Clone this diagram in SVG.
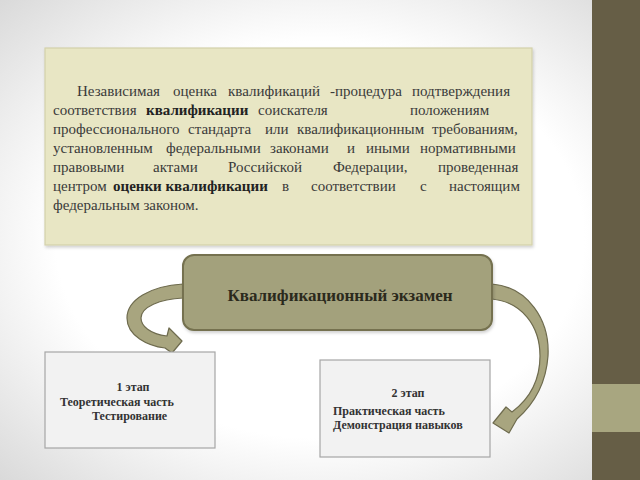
<svg xmlns="http://www.w3.org/2000/svg" width="640" height="480" viewBox="0 0 640 480">
<defs>
<radialGradient id="bg" cx="50%" cy="50%" r="75%">
<stop offset="0.55" stop-color="#ffffff"/>
<stop offset="1" stop-color="#d4d4d4"/>
</radialGradient>
<filter id="sh" x="-5%" y="-5%" width="110%" height="120%">
<feDropShadow dx="1" dy="2" stdDeviation="1.5" flood-color="#000" flood-opacity="0.18"/>
</filter>
</defs>
<style>
text{font-family:"Liberation Serif","DejaVu Serif",serif}
.body{font-size:15px;fill:#3a3a3a}
.b{font-weight:bold;fill:#222}
.small{font-size:12px;font-weight:bold;fill:#333}
.arrow{fill:#A8A57F;stroke:#6E6B4E;stroke-width:1.2;stroke-linejoin:round}
.stage{fill:#F2F2F2;stroke:#A6A6A6;stroke-width:1.2}
</style>
<rect x="0" y="0" width="640" height="480" fill="url(#bg)"/>
<rect x="592" y="0" width="48" height="480" fill="#665E46"/>
<rect x="592" y="384" width="48" height="48" fill="#A8A680"/>

<g id="definition">
<rect x="45" y="48" width="487" height="197" fill="#E8E6C4" stroke="#D3D1AB" stroke-width="1.2" filter="url(#sh)"/>
<text class="body" y="96"><tspan x="77">Независимая</tspan><tspan x="173">оценка</tspan><tspan x="228">квалификаций</tspan><tspan x="330">-процедура</tspan><tspan x="412">подтверждения</tspan></text>
<text class="body" y="115"><tspan x="53">соответствия</tspan><tspan x="146" class="b">квалификации</tspan><tspan x="258">соискателя</tspan><tspan x="410">положениям</tspan></text>
<text class="body" y="134"><tspan x="53">профессионального</tspan><tspan x="188">стандарта</tspan><tspan x="265">или</tspan><tspan x="297">квалификационным</tspan><tspan x="432">требованиям,</tspan></text>
<text class="body" y="153"><tspan x="53">установленным</tspan><tspan x="166">федеральными</tspan><tspan x="270">законами</tspan><tspan x="347">и</tspan><tspan x="366">иными</tspan><tspan x="420">нормативными</tspan></text>
<text class="body" y="172"><tspan x="53">правовыми</tspan><tspan x="153">актами</tspan><tspan x="228">Российской</tspan><tspan x="333">Федерации,</tspan><tspan x="438">проведенная</tspan></text>
<text class="body" y="191"><tspan x="53">центром</tspan><tspan x="113" class="b">оценки квалификации</tspan><tspan x="282">в</tspan><tspan x="311">соответствии</tspan><tspan x="420">с</tspan><tspan x="449">настоящим</tspan></text>
<text class="body" y="210" x="53">федеральным законом.</text>
</g>

<g id="connectors">
<path class="arrow" d="M183,284 C150,286 127,300 127,318 C127,336 148,346 165,348 L172,353 L182,341 L169,328 L167,336 C150,334 141,326 141,318 C141,307 160,299 183,298 Z"/>
<path class="arrow" d="M492,284 C528,287 550,320 548,356 C546,384 534,404 517,419 L509,433 L493,423 L506,407 L512,412 C528,400 540,382 540,356 C540,326 522,302 492,299 Z"/>
</g>

<g id="exam">
<rect x="183" y="255" width="309" height="75" rx="11" fill="#A3A17C" stroke="#74714F" stroke-width="2" filter="url(#sh)"/>
<text x="340" y="301" text-anchor="middle" font-size="17" font-weight="bold" fill="#2B2A1C">Квалификационный экзамен</text>
</g>

<g id="stage1">
<rect class="stage" x="45" y="352" width="170" height="96"/>
<text class="small"><tspan x="133" y="391" text-anchor="middle">1 этап</tspan><tspan x="60" y="406">Теоретическая часть</tspan><tspan x="92" y="420">Тестирование</tspan></text>
</g>

<g id="stage2">
<rect class="stage" x="320" y="360" width="170" height="97"/>
<text class="small"><tspan x="408" y="397" text-anchor="middle">2 этап</tspan><tspan x="333" y="415">Практическая часть</tspan><tspan x="333" y="429">Демонстрация навыков</tspan></text>
</g>
</svg>
